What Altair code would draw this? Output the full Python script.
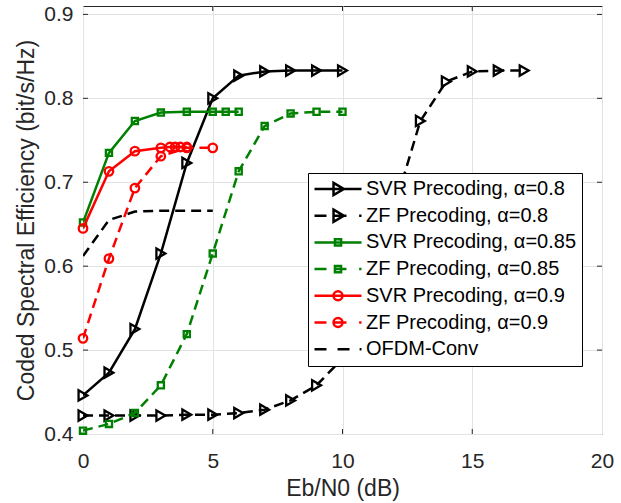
import altair as alt
import pandas as pd

# ---------------- data ----------------
snr_svr08 = [0, 1, 2, 3, 4, 5, 6, 7, 8, 9, 10]
se_svr08 = [0.446, 0.473, 0.525, 0.615, 0.723, 0.800, 0.827, 0.832, 0.833, 0.833, 0.833]

snr_zf08 = [0, 1, 2, 3, 4, 5, 6, 7, 8, 9, 10, 11, 12, 13, 14, 15, 16, 17]
se_zf08 = [0.422, 0.422, 0.422, 0.422, 0.423, 0.423, 0.425, 0.429, 0.440, 0.458,
           0.490, 0.570, 0.670, 0.773, 0.820, 0.832, 0.833, 0.833]

snr_svr085 = [0, 1, 2, 3, 4, 5, 5.5, 6]
se_svr085 = [0.652, 0.735, 0.773, 0.783, 0.784, 0.784, 0.784, 0.784]

snr_zf085 = [0, 1, 2, 3, 4, 5, 6, 7, 8, 9, 10]
se_zf085 = [0.404, 0.412, 0.425, 0.458, 0.519, 0.615, 0.713, 0.767, 0.782, 0.784, 0.784]

snr_svr09 = [0, 1, 2, 3, 3.35, 3.55, 3.75, 4]
se_svr09 = [0.645, 0.713, 0.737, 0.741, 0.742, 0.742, 0.742, 0.742]

snr_zf09 = [0, 1, 2, 3, 4, 5]
se_zf09 = [0.514, 0.609, 0.693, 0.731, 0.741, 0.741]

snr_ofdm = [0, 1, 2, 3, 4, 5]
se_ofdm = [0.612, 0.655, 0.665, 0.666, 0.666, 0.666]

labels = [
    "SVR Precoding, α=0.8",
    "ZF Precoding, α=0.8",
    "SVR Precoding, α=0.85",
    "ZF Precoding, α=0.85",
    "SVR Precoding, α=0.9",
    "ZF Precoding, α=0.9",
    "OFDM-Conv",
]
xs = [snr_svr08, snr_zf08, snr_svr085, snr_zf085, snr_svr09, snr_zf09, snr_ofdm]
ys = [se_svr08, se_zf08, se_svr085, se_zf085, se_svr09, se_zf09, se_ofdm]

x_ticks = [0, 5, 10, 15, 20]
y_ticks = [0.4, 0.5, 0.6, 0.7, 0.8, 0.9]

# ---------------- styles ----------------
BLACK, GREEN, RED = "#000000", "#008000", "#ff0000"
colors = [BLACK, BLACK, GREEN, GREEN, RED, RED, BLACK]
dashed = [False, True, False, True, False, True, True]
shapes = ["triangle-right", "triangle-right", "square", "square", "circle", "circle", None]
sizes = [105, 105, 38, 38, 72, 72, 0]

tri = "M-0.19,-0.26L0.25,0L-0.19,0.26Z"
sq = "M-0.13,-0.13H0.13V0.13H-0.13Z"
circ = "M0.19,0A0.19,0.19,0,1,1,-0.19,0A0.19,0.19,0,1,1,0.19,0Z"
solid_line = "M-1,0H1"
dash_line = "M-1,0H-0.49M-0.15,0H0.36M0.9,0H1"
ofdm_line = "M-1,0H-0.49M-0.02,0H0.49M0.92,0H1"
legend_paths = [
    solid_line + tri,
    dash_line + tri,
    solid_line + sq,
    dash_line + sq,
    solid_line + circ,
    dash_line + circ,
    ofdm_line,
]

W, H = 519, 428
XD = [0, 20]
YD = [0.4, 0.91]
FONT = "Liberation Sans"
TXT = "#262626"

xscale = alt.Scale(domain=XD, nice=False, zero=False)
yscale = alt.Scale(domain=YD, nice=False, zero=False)

layers = []

# invisible base layer carrying the axes
base_df = pd.DataFrame({"snr": [0], "se": [0.5]})
axes_layer = alt.Chart(base_df).mark_point(opacity=0).encode(
    x=alt.X("snr:Q", scale=xscale,
            axis=alt.Axis(values=x_ticks, title="Eb/N0 (dB)", grid=True, ticks=False,
                          domain=False, labelFontSize=21, titleFontSize=23,
                          labelPadding=16, titlePadding=6, labelFont=FONT, titleFont=FONT,
                          labelColor=TXT, titleColor=TXT, titleFontWeight="normal",
                          gridColor="#e3e3e3", labelFlush=False)),
    y=alt.Y("se:Q", scale=yscale,
            axis=alt.Axis(values=y_ticks, format=".1f", title="Coded Spectral Efficiency (bit/s/Hz)",
                          grid=True, ticks=False, domain=False, labelFontSize=21,
                          titleFontSize=23, labelPadding=10, titlePadding=5, labelFont=FONT,
                          titleFont=FONT, labelColor=TXT, titleColor=TXT,
                          titleFontWeight="normal", gridColor="#e3e3e3", labelFlush=False)),
)
layers.append(axes_layer)

# inward tick marks on all four sides
xt = pd.DataFrame({"t": [5, 10, 15]})
yt = pd.DataFrame({"v": [0.5, 0.6, 0.7, 0.8, 0.9]})
tick_style = dict(color=TXT, strokeWidth=1)
layers.append(alt.Chart(xt).mark_rule(**tick_style).encode(
    x=alt.X("t:Q", scale=xscale), y=alt.value(H), y2=alt.value(H - 5)))
layers.append(alt.Chart(xt).mark_rule(**tick_style).encode(
    x=alt.X("t:Q", scale=xscale), y=alt.value(0), y2=alt.value(5)))
layers.append(alt.Chart(yt).mark_rule(**tick_style).encode(
    y=alt.Y("v:Q", scale=yscale), x=alt.value(0), x2=alt.value(5)))
layers.append(alt.Chart(yt).mark_rule(**tick_style).encode(
    y=alt.Y("v:Q", scale=yscale), x=alt.value(W), x2=alt.value(W - 5)))

# data series
for i, lab in enumerate(labels):
    df = pd.DataFrame({"snr": xs[i], "se": ys[i]})
    line_kw = dict(color=colors[i], strokeWidth=2.5, clip=True)
    if dashed[i]:
        line_kw["strokeDash"] = [10, 6]
    layers.append(alt.Chart(df).mark_line(**line_kw).encode(
        x=alt.X("snr:Q", scale=xscale), y=alt.Y("se:Q", scale=yscale)))
    if shapes[i]:
        layers.append(alt.Chart(df).mark_point(
            shape=shapes[i], size=sizes[i], filled=False, color=colors[i],
            strokeWidth=2.3, opacity=1).encode(
            x=alt.X("snr:Q", scale=xscale), y=alt.Y("se:Q", scale=yscale)))

# legend layer (no visible marks; only provides the legend)
leg_df = pd.DataFrame({"entry": labels, "snr": [-1] * 7, "se": [0.5] * 7})
leg_kw = dict(title=None, orient="none", legendX=225, legendY=167,
              fillColor="white", strokeColor="#000000", padding=5,
              symbolSize=2209, symbolStrokeWidth=2.5, labelFont=FONT, labelFontSize=20,
              labelColor="#000000", labelOffset=3, labelLimit=400, rowPadding=4.7,
              clipHeight=22, symbolOpacity=1, cornerRadius=0)
legend_layer = alt.Chart(leg_df).transform_filter("datum.snr >= 0").mark_point(
    filled=False, strokeWidth=2.5).encode(
    x=alt.X("snr:Q", scale=xscale),
    y=alt.Y("se:Q", scale=yscale),
    color=alt.Color("entry:N", scale=alt.Scale(domain=labels, range=colors),
                    legend=alt.Legend(**leg_kw)),
    shape=alt.Shape("entry:N", scale=alt.Scale(domain=labels, range=legend_paths),
                    legend=alt.Legend(**leg_kw)),
)
layers.append(legend_layer)

chart = alt.layer(*layers).properties(
    width=W, height=H,
    autosize=alt.AutoSizeParams(type="none"),
    padding={"left": 83, "top": 6, "right": 19, "bottom": 69},
    background="white",
).configure_view(stroke=TXT, strokeWidth=1)

chart.save("out.html", embed_options={"renderer": "svg", "actions": False})
